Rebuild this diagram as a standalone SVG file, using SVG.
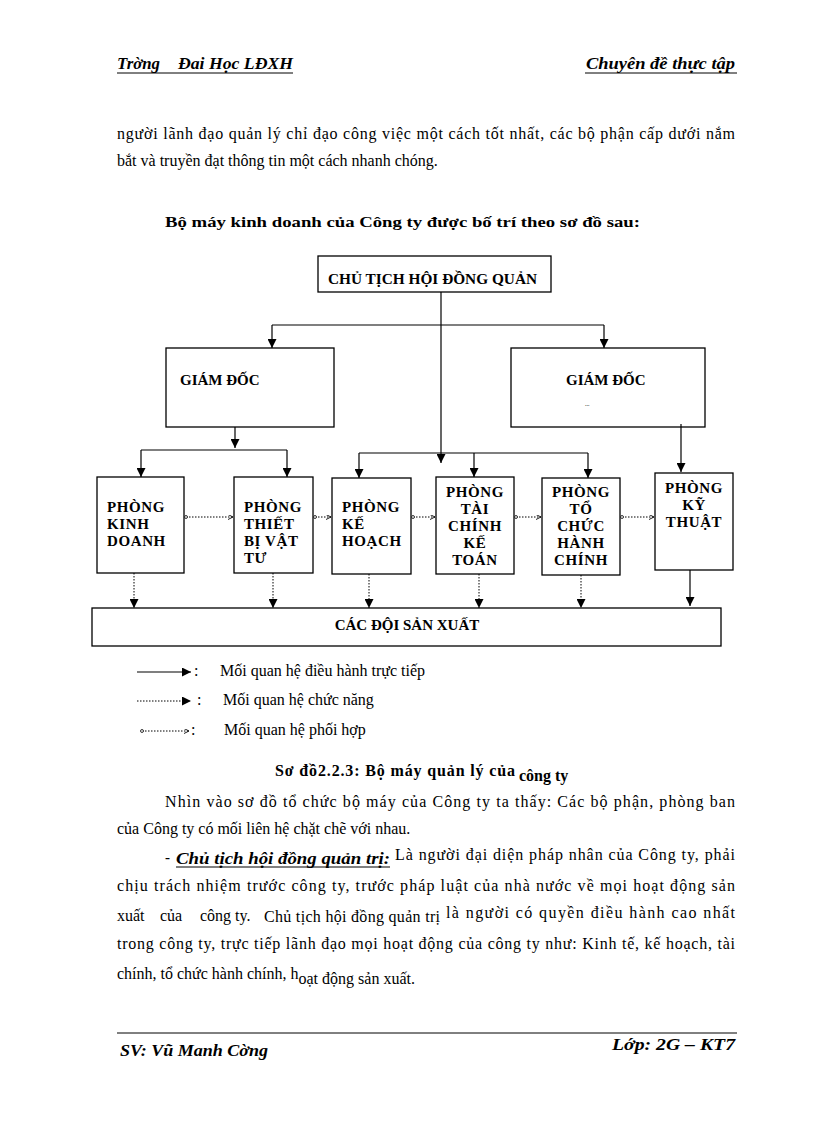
<svg xmlns="http://www.w3.org/2000/svg" width="816" height="1123" viewBox="0 0 816 1123">
<style>
.t{font-family:"Liberation Serif","Times New Roman",serif;font-size:16px;fill:#000}
.hd{font-family:"Liberation Serif","Times New Roman",serif;font-size:16px;font-weight:bold;font-style:italic;fill:#000}
.b{font-family:"Liberation Serif","Times New Roman",serif;font-size:15px;font-weight:bold;fill:#000}
.bx{fill:#fff;stroke:#000;stroke-width:1.3}
.nt{font-family:"Liberation Serif","Times New Roman",serif;font-size:15px;font-weight:bold;fill:#000}
.ph{font-family:"Liberation Serif","Times New Roman",serif;font-size:15px;font-weight:bold;letter-spacing:0.6px;fill:#000}
.c{text-anchor:middle}
.s{stroke:#000;stroke-width:1.2;fill:none}
.d{stroke:#000;stroke-width:1;fill:none;stroke-dasharray:1.5 1.5}
</style>
<defs>
<marker id="ah" viewBox="0 0 10 10" refX="10" refY="5" markerWidth="9" markerHeight="9" markerUnits="userSpaceOnUse" orient="auto"><path d="M0,0 L10,5 L0,10 z" fill="#000"/></marker>
<marker id="oa" viewBox="0 0 8 8" refX="8" refY="4" markerWidth="5" markerHeight="5" markerUnits="userSpaceOnUse" orient="auto"><path d="M0,0 L8,4 L0,8" fill="none" stroke="#000" stroke-width="1.4"/></marker>
<marker id="dot" viewBox="0 0 6 6" refX="3" refY="3" markerWidth="4" markerHeight="4" markerUnits="userSpaceOnUse" orient="auto"><circle cx="3" cy="3" r="2.2" fill="#fff" stroke="#000" stroke-width="1.2"/></marker>
</defs>

<!-- header -->
<text class="hd" x="117" y="69" textLength="43" lengthAdjust="spacingAndGlyphs">Trờng</text>
<text class="hd" x="178" y="69" textLength="115" lengthAdjust="spacingAndGlyphs">Đai Học LĐXH</text>
<line x1="117" y1="73" x2="293" y2="73" stroke="#000" stroke-width="1"/>
<text class="hd" x="586" y="69" textLength="149" lengthAdjust="spacingAndGlyphs">Chuyên đề thực tập</text>
<line x1="585" y1="73" x2="737" y2="73" stroke="#000" stroke-width="1"/>

<text class="t" x="117" y="139" textLength="618" lengthAdjust="spacing">người lãnh đạo quản lý chỉ đạo công việc một cách tốt nhất, các bộ phận cấp dưới nắm</text>
<text class="t" x="117" y="166">bắt và truyền đạt thông tin một cách nhanh chóng.</text>
<text class="b" x="165" y="227" textLength="475" lengthAdjust="spacingAndGlyphs">Bộ máy kinh doanh của Công ty được bố trí theo sơ đồ sau:</text>

<!-- nodes -->
<g id="chutich"><rect class="bx" x="318" y="256" width="233" height="36"/><text class="nt" x="328" y="284" textLength="209" lengthAdjust="spacingAndGlyphs">CHỦ TỊCH HỘI ĐỒNG QUẢN</text></g>
<g id="giamdoc1"><rect class="bx" x="166" y="348" width="168" height="79"/><text class="nt" x="180" y="385">GIÁM ĐỐC</text></g>
<g id="giamdoc2"><rect class="bx" x="511" y="348" width="194" height="79"/><text class="nt" x="566" y="385">GIÁM ĐỐC</text><text x="585" y="406" style="font-family:'Liberation Serif',serif;font-size:6px">...</text></g>
<g id="kinhdoanh"><rect class="bx" x="97" y="477" width="87" height="96"/><text class="ph" x="107" y="512">PHÒNG</text><text class="ph" x="107" y="529">KINH</text><text class="ph" x="107" y="546">DOANH</text></g>
<g id="thietbi"><rect class="bx" x="234" y="477" width="79" height="96"/><text class="ph" x="244" y="512">PHÒNG</text><text class="ph" x="244" y="529">THIẾT</text><text class="ph" x="244" y="546">BỊ VẬT</text><text class="ph" x="244" y="563">TƯ</text></g>
<g id="kehoach"><rect class="bx" x="332" y="478" width="79" height="96"/><text class="ph" x="342" y="512">PHÒNG</text><text class="ph" x="342" y="529">KẾ</text><text class="ph" x="342" y="546">HOẠCH</text></g>
<g id="taichinh"><rect class="bx" x="436" y="477" width="78" height="97"/><text class="ph c" x="475" y="497">PHÒNG</text><text class="ph c" x="475" y="514">TÀI</text><text class="ph c" x="475" y="531">CHÍNH</text><text class="ph c" x="475" y="548">KẾ</text><text class="ph c" x="475" y="565">TOÁN</text></g>
<g id="tochuc"><rect class="bx" x="542" y="478" width="78" height="97"/><text class="ph c" x="581" y="497">PHÒNG</text><text class="ph c" x="581" y="514">TỔ</text><text class="ph c" x="581" y="531">CHỨC</text><text class="ph c" x="581" y="548">HÀNH</text><text class="ph c" x="581" y="565">CHÍNH</text></g>
<g id="kythuat"><rect class="bx" x="655" y="473" width="78" height="97"/><text class="ph c" x="694" y="493">PHÒNG</text><text class="ph c" x="694" y="510">KỸ</text><text class="ph c" x="694" y="527">THUẬT</text></g>
<g id="cacdoi"><rect class="bx" x="92" y="608" width="629" height="38"/><text class="nt c" x="407" y="630">CÁC ĐỘI SẢN XUẤT</text></g>

<!-- connectors -->
<g id="connectors">
<line class="s" x1="441" y1="292" x2="441" y2="463" marker-end="url(#ah)"/>
<line class="s" x1="272" y1="325" x2="604" y2="325"/>
<line class="s" x1="272" y1="325" x2="272" y2="348" marker-end="url(#ah)"/>
<line class="s" x1="604" y1="325" x2="604" y2="348" marker-end="url(#ah)"/>
<line class="s" x1="235" y1="427" x2="235" y2="448" marker-end="url(#ah)"/>
<line class="s" x1="141" y1="450" x2="287" y2="450"/>
<line class="s" x1="141" y1="450" x2="141" y2="477" marker-end="url(#ah)"/>
<line class="s" x1="287" y1="450" x2="287" y2="477" marker-end="url(#ah)"/>
<line class="s" x1="359" y1="453" x2="588" y2="453"/>
<line class="s" x1="359" y1="453" x2="359" y2="478" marker-end="url(#ah)"/>
<line class="s" x1="474" y1="453" x2="474" y2="477" marker-end="url(#ah)"/>
<line class="s" x1="588" y1="453" x2="588" y2="478" marker-end="url(#ah)"/>
<line class="s" x1="681" y1="424" x2="681" y2="472" marker-end="url(#ah)"/>
<line class="d" x1="134" y1="573" x2="134" y2="608" marker-end="url(#ah)"/>
<line class="d" x1="273" y1="573" x2="273" y2="608" marker-end="url(#ah)"/>
<line class="d" x1="369" y1="574" x2="369" y2="608" marker-end="url(#ah)"/>
<line class="d" x1="479" y1="574" x2="479" y2="608" marker-end="url(#ah)"/>
<line class="d" x1="581" y1="575" x2="581" y2="608" marker-end="url(#ah)"/>
<line class="s" x1="690" y1="570" x2="690" y2="606" marker-end="url(#ah)"/>
<line class="d" x1="186" y1="517" x2="233" y2="517" marker-start="url(#dot)" marker-end="url(#oa)"/>
<line class="d" x1="315" y1="517" x2="331" y2="517" marker-start="url(#dot)" marker-end="url(#oa)"/>
<line class="d" x1="413" y1="517" x2="435" y2="517" marker-start="url(#dot)" marker-end="url(#oa)"/>
<line class="d" x1="516" y1="517" x2="541" y2="517" marker-start="url(#dot)" marker-end="url(#oa)"/>
<line class="d" x1="622" y1="517" x2="654" y2="517" marker-start="url(#dot)" marker-end="url(#oa)"/>
</g>

<!-- legend -->
<g id="legend">
<line class="s" x1="137" y1="672" x2="191" y2="672" marker-end="url(#ah)"/>
<text class="t" x="194" y="676">:</text>
<text class="t" x="220" y="676">Mối quan hệ điều hành trực tiếp</text>
<line class="d" x1="137" y1="701" x2="191" y2="701" marker-end="url(#ah)"/>
<text class="t" x="197" y="705">:</text>
<text class="t" x="223" y="705">Mối quan hệ chức năng</text>
<line class="d" x1="142" y1="731" x2="189" y2="731" marker-start="url(#dot)" marker-end="url(#oa)"/>
<text class="t" x="191" y="735">:</text>
<text class="t" x="224" y="735">Mối quan hệ phối hợp</text>
</g>

<text class="b" x="275" y="776" style="font-size:16px" textLength="240" lengthAdjust="spacing">Sơ đồ2.2.3: Bộ máy quản lý của</text>
<text class="b" x="519" y="781" style="font-size:16px">công ty</text>

<text class="t" x="165" y="807" textLength="570" lengthAdjust="spacing">Nhìn vào sơ đồ tổ chức bộ máy của Công ty ta thấy: Các bộ phận, phòng ban</text>
<text class="t" x="117" y="834">của Công ty có mối liên hệ chặt chẽ với nhau.</text>
<text class="b" x="165" y="862">-</text>
<text class="hd" x="176" y="864" textLength="214" lengthAdjust="spacingAndGlyphs">Chủ tịch hội đồng quản trị:</text>
<line x1="176" y1="867" x2="390" y2="867" stroke="#000" stroke-width="1"/>
<text class="t" x="395" y="860" textLength="340" lengthAdjust="spacing">Là người đại diện pháp nhân của Công ty, phải</text>
<text class="t" x="117" y="891" textLength="618" lengthAdjust="spacing">chịu trách nhiệm trước công ty, trước pháp luật của nhà nước về mọi hoạt động sản</text>
<text class="t" x="117" y="921">xuất</text>
<text class="t" x="160" y="921">của</text>
<text class="t" x="200" y="921">công ty.</text>
<text class="t" x="264" y="922" textLength="176" lengthAdjust="spacing">Chủ tịch hội đồng quản trị</text>
<text class="t" x="446" y="918" textLength="289" lengthAdjust="spacing">là người có quyền điều hành cao nhất</text>
<text class="t" x="117" y="949" textLength="618" lengthAdjust="spacing">trong công ty, trực tiếp lãnh đạo mọi hoạt động của công ty như: Kinh tế, kế hoạch, tài</text>
<text class="t" x="117" y="979">chính, tổ chức hành chính, h<tspan dy="5">oạt động sản xuất.</tspan></text>

<!-- footer -->
<line x1="117" y1="1033" x2="737" y2="1033" stroke="#000" stroke-width="1"/>
<text class="hd" x="120" y="1056" textLength="148" lengthAdjust="spacingAndGlyphs">SV: Vũ Manh Cờng</text>
<text class="hd" x="612" y="1050" textLength="123" lengthAdjust="spacingAndGlyphs">Lớp: 2G – KT7</text>
</svg>
